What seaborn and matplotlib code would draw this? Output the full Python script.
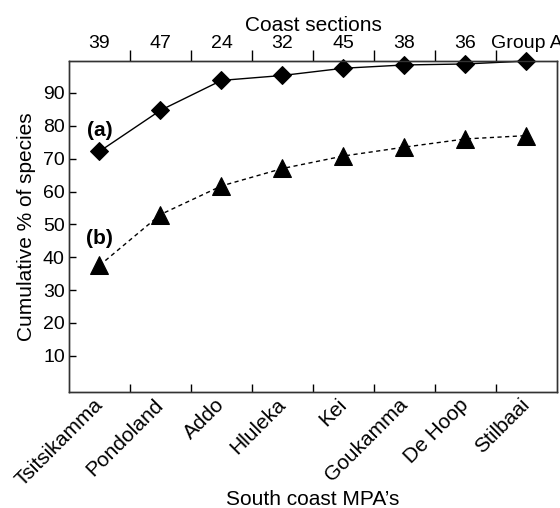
import numpy as np
import pandas as pd
import matplotlib
matplotlib.use("Agg")
import matplotlib.pyplot as plt
import seaborn as sns

# data
mpas = ["Tsitsikamma", "Pondoland", "Addo", "Hluleka", "Kei",
        "Goukamma", "De Hoop", "Stilbaai"]
coast_sections = ["39", "47", "24", "32", "45", "38", "36", "Group A"]
series_a = [72.2, 84.7, 93.8, 95.3, 97.5, 98.5, 98.8, 99.7]
series_b = [37.5, 53.0, 61.7, 67.0, 70.8, 73.5, 76.0, 77.0]
y_ticks = [10, 20, 30, 40, 50, 60, 70, 80, 90]

sns.set_style("ticks")
plt.rcParams['font.family'] = ['Liberation Sans', 'DejaVu Sans']
for k in ["text.color", "axes.labelcolor", "xtick.color", "ytick.color"]:
    plt.rcParams[k] = "black"

df = pd.DataFrame({"x": np.arange(len(mpas)), "a": series_a, "b": series_b})

fig = plt.figure(figsize=(5.6, 5.08), dpi=100)
ax = fig.add_axes([0.1232, 0.2283, 0.8714, 0.6516])

sns.lineplot(data=df, x="x", y="a", ax=ax, color="black", linewidth=1.0,
             marker="D", markersize=9, markeredgecolor="black", clip_on=False,
             zorder=5)
sns.lineplot(data=df, x="x", y="b", ax=ax, color="black", linewidth=1.0,
             linestyle=(0, (3, 2.5)), marker="^", markersize=12.5,
             markeredgecolor="black", clip_on=False, zorder=5)

ax.set_xlim(-0.5, 7.5)
ax.set_ylim(-1, 99.7)
ax.set_yticks(y_ticks)
ax.tick_params(axis="y", labelsize=14, length=5, width=1, direction="in", pad=3)

ax.set_xticks(np.arange(len(mpas)))
ax.set_xticklabels(mpas, rotation=45, ha="right", va="center",
                   rotation_mode="anchor")
ax.set_xticks(np.arange(len(mpas) - 1) + 0.5, minor=True)
ax.tick_params(axis="x", which="major", length=0, labelsize=15, pad=7)
ax.tick_params(axis="x", which="minor", length=6, width=1, direction="in")

ax.set_xlabel("South coast MPA\u2019s", fontsize=15, labelpad=0)
ax.set_ylabel("Cumulative % of species", fontsize=15, labelpad=5)

for s in ax.spines.values():
    s.set_linewidth(1.0)
    s.set_color("#333333")

# top axis: coast sections
top = ax.twiny()
top.set_xlim(ax.get_xlim())
top.set_xticks(np.arange(len(coast_sections)))
top.set_xticklabels(coast_sections)
top.set_xticks(np.arange(len(coast_sections) - 1) + 0.5, minor=True)
top.tick_params(axis="x", which="major", length=0, labelsize=14, pad=6.5)
top.tick_params(axis="x", which="minor", length=8, width=1, direction="out")
top.set_xlabel("Coast sections", fontsize=15, labelpad=3)
for s in top.spines.values():
    s.set_linewidth(1.0)
    s.set_color("#333333")

ax.text(0, 78.7, "(a)", fontsize=15, fontweight="bold", ha="center", va="center")
ax.text(0, 45.8, "(b)", fontsize=15, fontweight="bold", ha="center", va="center")

fig.savefig("out.png", dpi=100)
